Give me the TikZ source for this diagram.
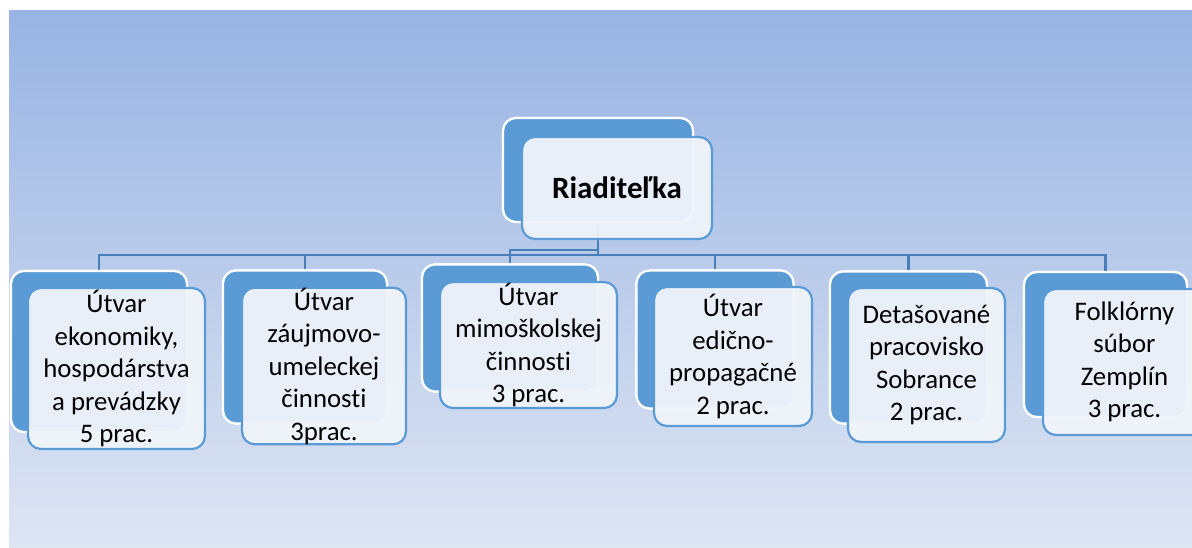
\documentclass[tikz,border=0pt]{standalone}
\usepackage{fontspec}
\setmainfont{Carlito}[Ligatures={NoCommon}]
\usetikzlibrary{calc}
\definecolor{bgtop}{HTML}{98B4E3}
\definecolor{bgbot}{HTML}{DEE5F3}
\definecolor{accent}{HTML}{5B9BD5}
\definecolor{frontfill}{HTML}{F0F4FA}
\definecolor{conn}{HTML}{4A7EB8}
\tikzset{
  backbox/.style={draw=white, fill=accent, line width=2.2pt, rounded corners=13pt, inner sep=0pt},
  frontbox/.style={draw=accent, fill=frontfill, fill opacity=0.95, text opacity=1, line width=2.2pt, rounded corners=13pt, inner sep=0pt, align=center, font=\fontsize{26.8}{32.5}\selectfont},
  topfront/.style={frontbox, font=\fontsize{31}{36}\selectfont\bfseries},
  connector/.style={draw=conn, line width=2.5pt},
}
\begin{document}
\begin{tikzpicture}[x=1pt,y=-1pt]
\useasboundingbox (0,0) rectangle (1192,548);
\clip (0,0) rectangle (1192,548);
\shade[top color=bgtop, bottom color=bgbot] (9,11) rectangle (1192,548);

% back boxes (named, for the connectors)
\node[backbox, minimum width=190, minimum height=104] (tb) at (598,170) {};
\node[backbox, minimum width=176, minimum height=161] (b1) at (99,351.5) {};
\node[backbox, minimum width=164, minimum height=153] (b2) at (305,347) {};
\node[backbox, minimum width=176, minimum height=127] (b3) at (510,328) {};
\node[backbox, minimum width=157, minimum height=138] (b4) at (715,339.5) {};
\node[backbox, minimum width=157, minimum height=152] (b5) at (908.5,347.5) {};
\node[backbox, minimum width=163, minimum height=145] (b6) at (1105.5,344.5) {};

% connectors
\draw[connector] (tb.south) -- ++(0,32) -| (b1.north);
\draw[connector] (tb.south) -- ++(0,32) -| (b2.north);
\draw[connector] (tb.south) -- ++(0,27) -| (b3.north);
\draw[connector] (tb.south) -- ++(0,32) -| (b4.north);
\draw[connector] (tb.south) -- ++(0,32) -| (b5.north);
\draw[connector] (tb.south) -- ++(0,32) -| (b6.north);

% back boxes again, above the connectors
\node[backbox, minimum width=190, minimum height=104] at (598,170) {};
\node[backbox, minimum width=176, minimum height=161] at (99,351.5) {};
\node[backbox, minimum width=164, minimum height=153] at (305,347) {};
\node[backbox, minimum width=176, minimum height=127] at (510,328) {};
\node[backbox, minimum width=157, minimum height=138] at (715,339.5) {};
\node[backbox, minimum width=157, minimum height=152] at (908.5,347.5) {};
\node[backbox, minimum width=163, minimum height=145] at (1105.5,344.5) {};

% front boxes
\node[topfront, minimum width=190, minimum height=102] (tf) at (617,188) {Riaditeľka};
\node[frontbox, minimum width=177, minimum height=161] (f1) at (116.5,368.5) {Útvar\\ekonomiky,\\hospodárstva\\a prevádzky\\5 prac.};
\node[frontbox, minimum width=164, minimum height=154] (f2) at (324,366) {Útvar\\záujmovo-\\umeleckej\\činnosti\\3prac.};
\node[frontbox, minimum width=177, minimum height=126] (f3) at (528.5,345) {Útvar\\mimoškolskej\\činnosti\\3 prac.};
\node[frontbox, minimum width=158, minimum height=139] (f4) at (733,356.5) {Útvar\\edično-\\propagačné\\2 prac.};
\node[frontbox, minimum width=157, minimum height=154] (f5) at (926.5,365) {Detašované\\pracovisko\\Sobrance\\2 prac.};
\node[frontbox, minimum width=163, minimum height=146] (f6) at (1124.5,362) {Folklórny\\súbor\\Zemplín\\3 prac.};
\end{tikzpicture}
\end{document}
